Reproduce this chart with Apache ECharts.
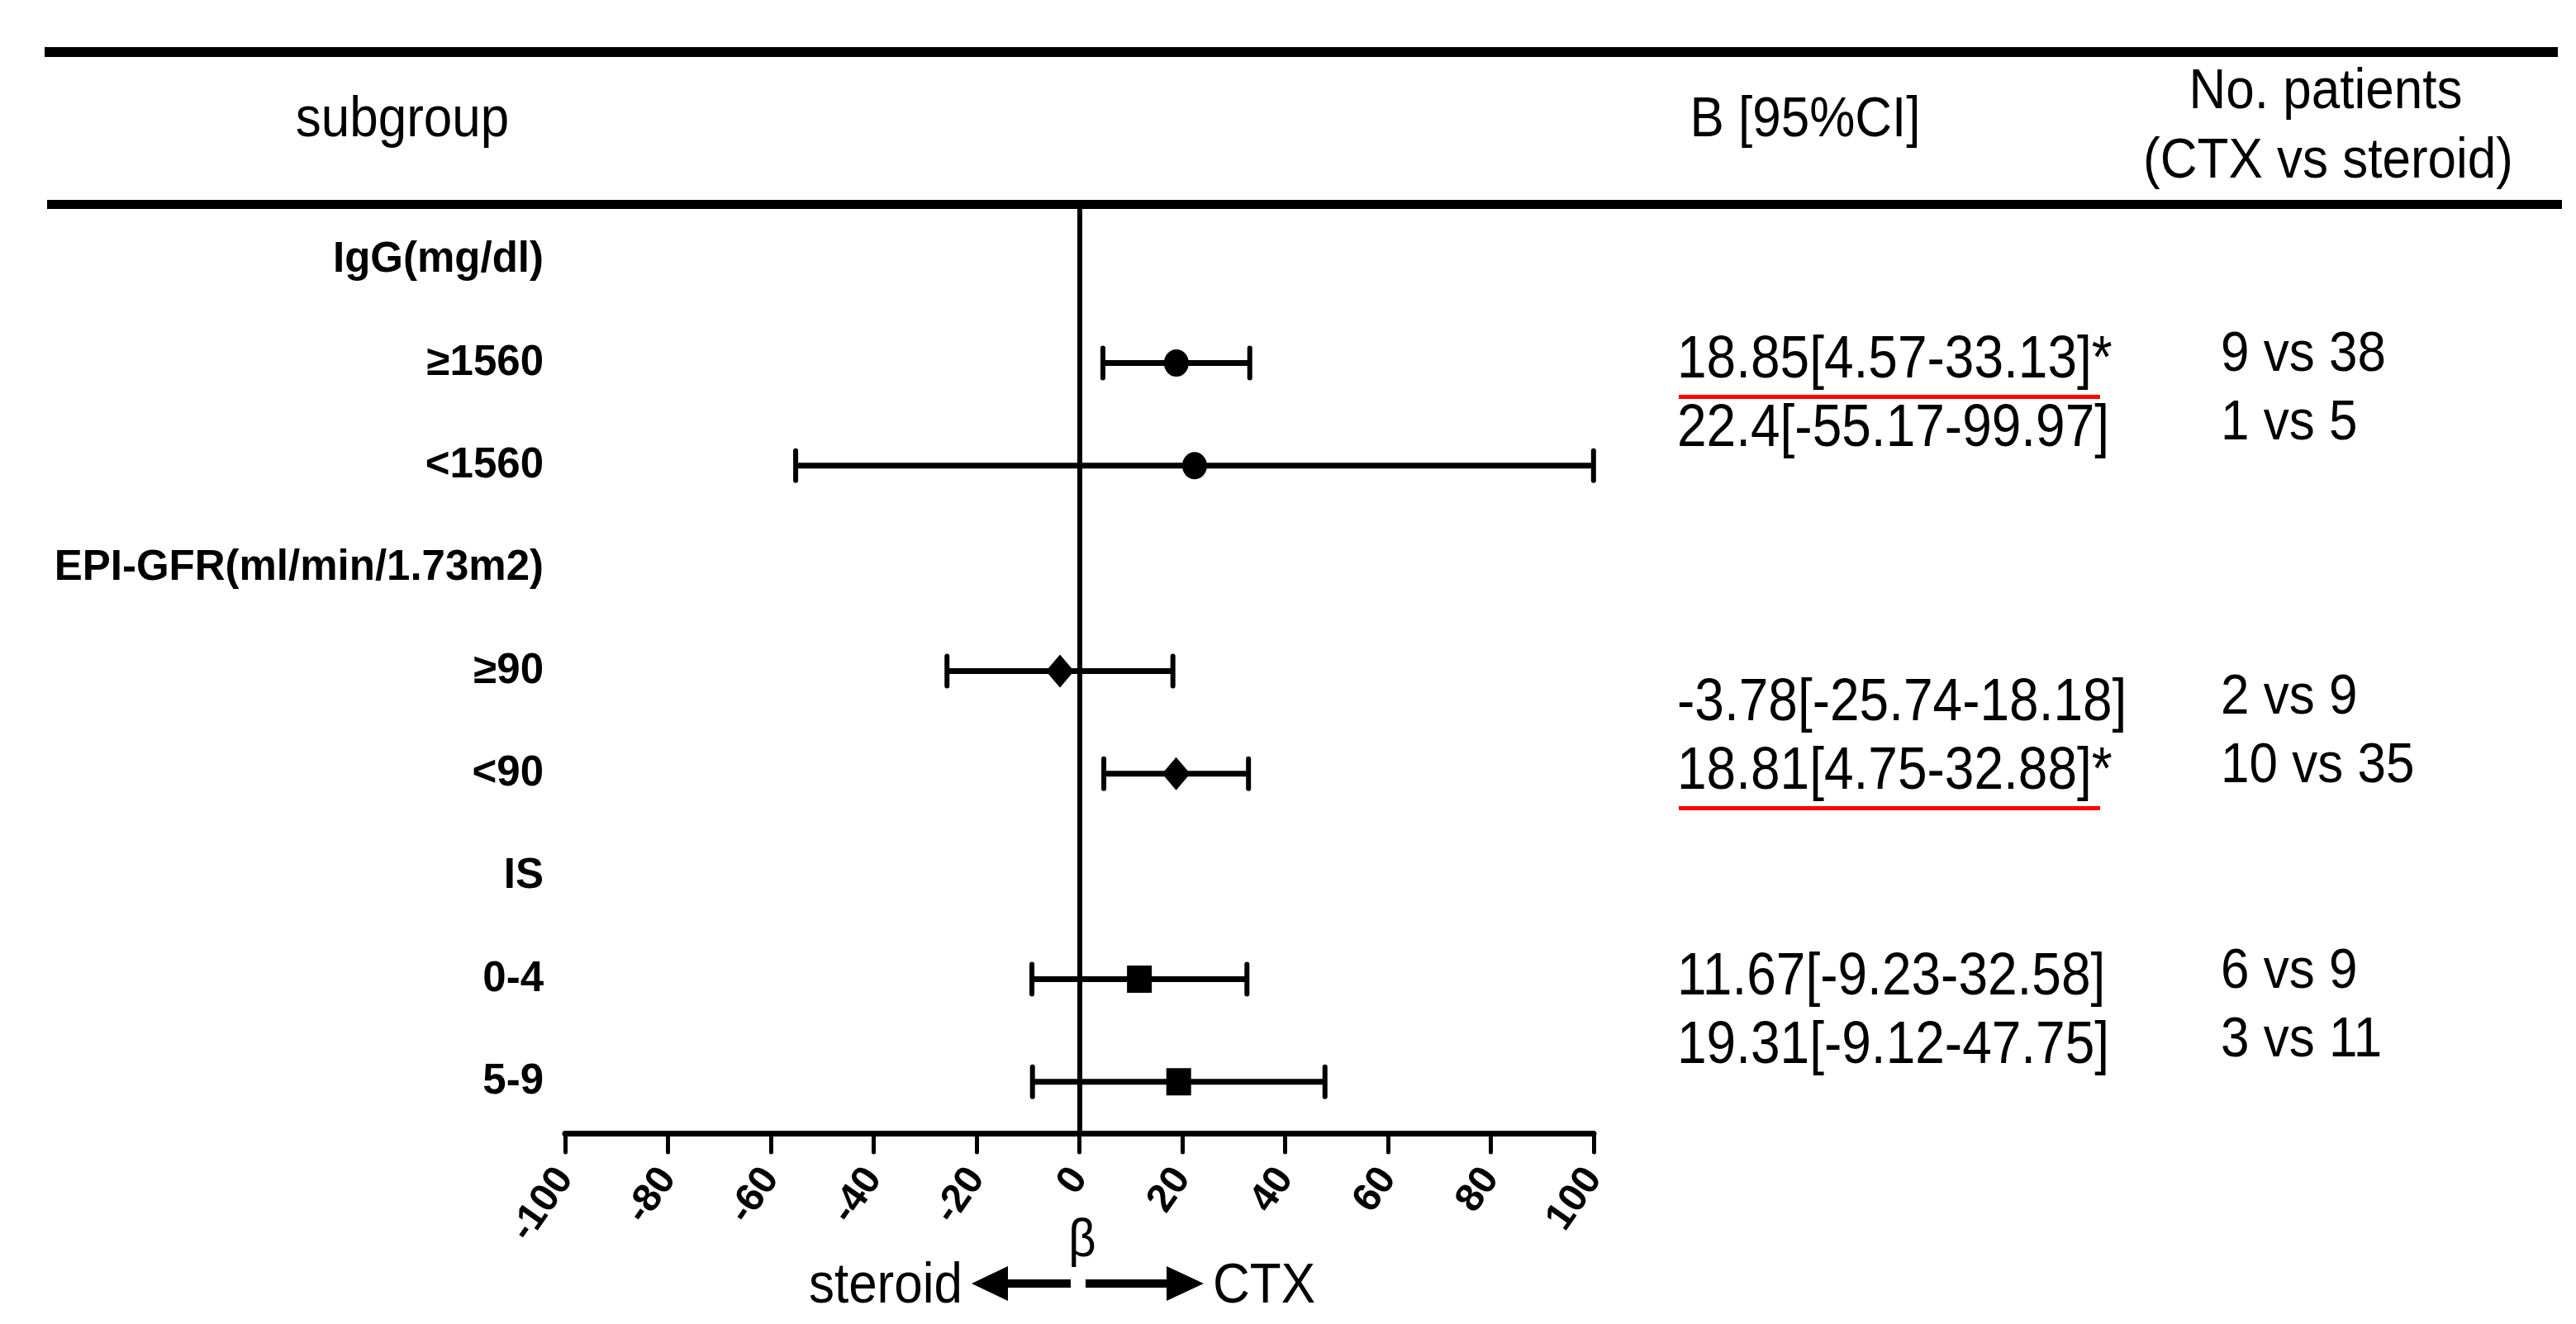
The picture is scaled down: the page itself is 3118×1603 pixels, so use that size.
<!DOCTYPE html>
<html>
<head>
<meta charset="utf-8">
<script src="https://cdn.jsdelivr.net/npm/echarts@6/dist/echarts.min.js"></script>
<style>
html,body{margin:0;padding:0;background:#fff;}
#chart{width:3118px;height:1603px;}
</style>
</head>
<body>
<div id="chart"></div>
<script>
// ---------- data ----------
const categories = ['IgG(mg/dl)', '≥1560', '<1560', 'EPI-GFR(ml/min/1.73m2)', '≥90', '<90', 'IS', '0-4', '5-9'];
const estimates = [null, 18.85, 22.4, null, -3.78, 18.81, null, 11.67, 19.31];
const lowerCI   = [null, 4.57, -55.17, null, -25.74, 4.75, null, -9.23, -9.12];
const upperCI   = [null, 33.13, 99.97, null, 18.18, 32.88, null, 32.58, 47.75];
const markerShapes = [null, 'circle', 'circle', null, 'diamond', 'diamond', null, 'rect', 'rect'];
const ciTexts = ['18.85[4.57-33.13]*', '22.4[-55.17-99.97]', '-3.78[-25.74-18.18]', '18.81[4.75-32.88]*', '11.67[-9.23-32.58]', '19.31[-9.12-47.75]'];
const significant = [true, false, false, true, false, false];
const patientTexts = ['9 vs 38', '1 vs 5', '2 vs 9', '10 vs 35', '6 vs 9', '3 vs 11'];
const xTicks = [-100, -80, -60, -40, -20, 0, 20, 40, 60, 80, 100];
const headerTexts = { subgroup: 'subgroup', ci: 'B [95%CI]', n1: 'No. patients', n2: '(CTX vs steroid)' };
const axisName = 'β';
const leftDir = 'steroid';
const rightDir = 'CTX';

// ---------- layout / style ----------
const FONT = "'Liberation Sans', Arial, Helvetica, sans-serif";
const symbolSizes = { circle: [30, 33], diamond: [34, 40], rect: [30, 33] };
const textRowsY = [437, 520, 852, 935, 1184, 1267];
const patientRowsY = [430, 513, 845, 928, 1177, 1260];
const SY = 1.12; // vertical stretch of the source typography

const chart = echarts.init(document.getElementById('chart'), null, { renderer: 'canvas' });

const errData = [];
const ptData = [];
categories.forEach((c, i) => {
  if (estimates[i] === null) return;
  errData.push([lowerCI[i], upperCI[i], i]);
  ptData.push({ value: [estimates[i], i], symbol: markerShapes[i], symbolSize: symbolSizes[markerShapes[i]] });
});

const txt = (t, x, y, size, align) => ({
  type: 'text', x: x, y: y, scaleY: SY,
  style: { text: t, font: size + 'px ' + FONT, fill: '#000', textAlign: align, textVerticalAlign: 'middle' }
});

const graphics = [];
graphics.push({ type: 'rect', shape: { x: 54, y: 57, width: 3042, height: 12 }, style: { fill: '#000' } });
graphics.push({ type: 'rect', shape: { x: 57, y: 242, width: 3044, height: 11 }, style: { fill: '#000' } });
graphics.push(txt(headerTexts.subgroup, 487, 146, 62, 'center'));
graphics.push(txt(headerTexts.ci, 2185, 146, 62, 'center'));
graphics.push(txt(headerTexts.n1, 2815, 112, 62, 'center'));
graphics.push(txt(headerTexts.n2, 2818, 196, 62, 'center'));
ciTexts.forEach((t, i) => {
  graphics.push(txt(t, 2030, textRowsY[i], 64, 'left'));
  if (significant[i]) {
    graphics.push({ type: 'rect', shape: { x: 2032, y: textRowsY[i] + 41, width: 510, height: 5 }, style: { fill: '#ff0000' } });
  }
});
patientTexts.forEach((t, i) => {
  graphics.push(txt(t, 2688, patientRowsY[i], 62, 'left'));
});
graphics.push(txt(axisName, 1310, 1503, 58, 'center'));
graphics.push(txt(leftDir, 1165, 1558, 62, 'right'));
graphics.push(txt(rightDir, 1468, 1558, 62, 'left'));
graphics.push({ type: 'polygon', shape: { points: [[1176,1554],[1220,1533],[1220,1549],[1296,1549],[1296,1559],[1220,1559],[1220,1575]] }, style: { fill: '#000' } });
graphics.push({ type: 'polygon', shape: { points: [[1457,1554],[1412,1533],[1412,1549],[1314,1549],[1314,1559],[1412,1559],[1412,1575]] }, style: { fill: '#000' } });

const option = {
  backgroundColor: '#fff',
  animation: false,
  grid: { left: 684, width: 1245, top: 253, height: 1119, containLabel: false, outerBoundsMode: 'none' },
  xAxis: {
    type: 'value', min: xTicks[0], max: xTicks[xTicks.length - 1], interval: 20,
    axisLine: { show: true, onZero: false, lineStyle: { color: '#000', width: 7, cap: 'round' } },
    axisTick: { show: true, length: 23, lineStyle: { color: '#000', width: 5, cap: 'round' } },
    axisLabel: { show: true, rotate: 55, margin: 47, fontFamily: FONT, fontWeight: 'bold', fontSize: 48, color: '#000' },
    splitLine: { show: false }
  },
  yAxis: {
    type: 'category', data: categories, inverse: true,
    axisLine: { show: false }, axisTick: { show: false },
    axisLabel: { show: true, margin: 26, fontFamily: FONT, fontWeight: 'bold', fontSize: 51, color: '#000' },
    splitLine: { show: false }
  },
  graphic: graphics,
  series: [
    {
      type: 'custom',
      data: errData,
      encode: { x: [0, 1], y: 2 },
      z: 3,
      renderItem: function (params, api) {
        const row = api.value(2);
        const p1 = api.coord([api.value(0), row]);
        const p2 = api.coord([api.value(1), row]);
        const h = 18;
        const st = { stroke: '#000', lineWidth: 7 };
        const cst = { stroke: '#000', lineWidth: 6, lineCap: 'round' };
        return {
          type: 'group',
          children: [
            { type: 'line', shape: { x1: p1[0], y1: p1[1], x2: p2[0], y2: p2[1] }, style: st },
            { type: 'line', shape: { x1: p1[0], y1: p1[1] - h, x2: p1[0], y2: p1[1] + h }, style: cst },
            { type: 'line', shape: { x1: p2[0], y1: p2[1] - h, x2: p2[0], y2: p2[1] + h }, style: cst }
          ]
        };
      }
    },
    {
      type: 'scatter',
      data: ptData,
      z: 4,
      itemStyle: { color: '#000', opacity: 1 },
      markLine: {
        silent: true, symbol: 'none', label: { show: false },
        lineStyle: { color: '#000', width: 6, type: 'solid', opacity: 1 },
        data: [{ xAxis: 0 }]
      }
    }
  ]
};
chart.setOption(option);
</script>
</body>
</html>
